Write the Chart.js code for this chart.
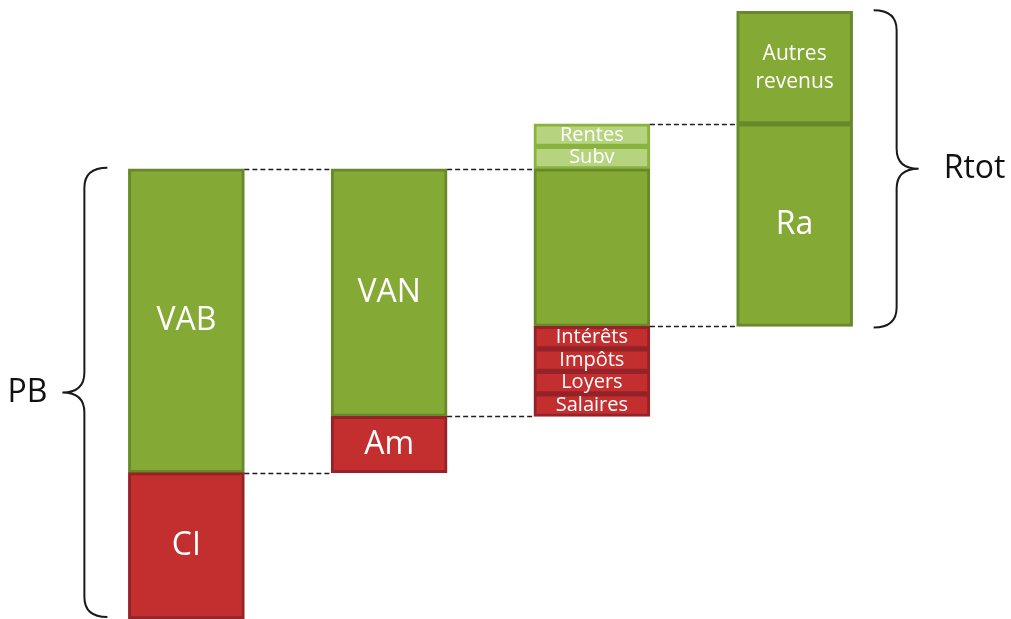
<!DOCTYPE html>
<html lang="fr">
<head>
<meta charset="utf-8">
<title>Du produit brut au revenu total</title>
<script src="https://cdn.jsdelivr.net/npm/chart.js@4.4.1/dist/chart.umd.min.js"></script>
<style>
  html, body { margin: 0; padding: 0; background: #fff; overflow: hidden; }
  canvas { display: block; }
</style>
</head>
<body>
<canvas id="cascade" width="1011" height="619"></canvas>
<script>
const columns = ['PB', 'VAN', 'RB', 'Rtot'];

// one entry per block of the cascade: column, bottom, top, kind
const blockNames = ['CI', 'VAB', 'Am', 'VAN', 'Salaires', 'Loyers', 'Impôts', 'Intérêts', '', 'Subv', 'Rentes', 'Ra', 'Autres revenus'];
const blockColumn = [0, 0, 1, 1, 2, 2, 2, 2, 2, 2, 2, 3, 3];
const blockFrom = [0, 32.5, 32.5, 45, 45, 50, 55, 60, 65, 100, 105, 65, 110];
const blockTo = [32.5, 100, 45, 100, 50, 55, 60, 65, 100, 105, 110, 110, 135];
const blockKind = ['charge', 'valeur', 'charge', 'valeur', 'charge', 'charge', 'charge', 'charge', 'valeur', 'aide', 'aide', 'valeur', 'valeur'];

// dashed links from a column to the next one, at a level
const linkFrom = [0, 0, 1, 1, 2, 2];
const linkLevel = [100, 32.5, 100, 45, 110, 65];

// braces grouping a range of the first / last column
const braceNames = ['PB', 'Rtot'];
const braceColumn = [0, 3];
const braceFrom = [0, 65];
const braceTo = [100, 135];

const fills = { charge: '#c32e2f', valeur: '#84a935', aide: '#b6d480' };
const edges = { charge: '#952228', valeur: '#68892a', aide: '#8ab33d' };
const FONT = '"Open Sans", "DejaVu Sans", sans-serif';

function columnBox(chart, col) {
  const i = blockColumn.indexOf(col);
  const bar = chart.getDatasetMeta(i).data[col];
  const { x, width } = bar.getProps(['x', 'width'], true);
  return { left: x - width / 2, right: x + width / 2 };
}

// white names centred in each block
const blockLabels = {
  id: 'blockLabels',
  afterDatasetsDraw(chart) {
    const ctx = chart.ctx;
    ctx.save();
    ctx.fillStyle = '#ffffff';
    ctx.textAlign = 'center';
    ctx.textBaseline = 'middle';
    blockNames.forEach((name, i) => {
      if (!name) return;
      const bar = chart.getDatasetMeta(i).data[blockColumn[i]];
      const { x, y, base } = bar.getProps(['x', 'y', 'base'], true);
      const h = Math.abs(base - y);
      const mid = (y + base) / 2;
      const words = name.split(' ');
      if (h < 40) {
        ctx.font = '20px ' + FONT;
        ctx.fillText(name, x, mid);
      } else if (words.length > 1) {
        ctx.font = '21px ' + FONT;
        ctx.fillText(words[0], x, mid - 14);
        ctx.fillText(words[1], x, mid + 14);
      } else {
        ctx.font = '32px ' + FONT;
        ctx.fillText(name, x, mid);
      }
    });
    ctx.restore();
  }
};

// dashed lines joining the columns
const links = {
  id: 'links',
  afterDatasetsDraw(chart) {
    const ctx = chart.ctx;
    const yScale = chart.scales.y;
    ctx.save();
    ctx.strokeStyle = '#1f1f1f';
    ctx.lineWidth = 1.5;
    ctx.setLineDash([5, 3]);
    linkFrom.forEach((col, k) => {
      const a = columnBox(chart, col);
      const b = columnBox(chart, col + 1);
      const y = Math.round(yScale.getPixelForValue(linkLevel[k])) + 0.5;
      ctx.beginPath();
      ctx.moveTo(a.right, y);
      ctx.lineTo(b.left, y);
      ctx.stroke();
    });
    ctx.restore();
  }
};

// curly braces with their names
const braces = {
  id: 'braces',
  afterDatasetsDraw(chart) {
    const ctx = chart.ctx;
    const yScale = chart.scales.y;
    const bottomLimit = chart.height - 2;
    ctx.save();
    ctx.strokeStyle = '#1a1a1a';
    ctx.fillStyle = '#111111';
    ctx.lineWidth = 2;
    ctx.font = '32px ' + FONT;
    ctx.textBaseline = 'middle';
    braceNames.forEach((name, k) => {
      const box = columnBox(chart, braceColumn[k]);
      const left = braceColumn[k] === 0;
      const dir = left ? -1 : 1;
      const edge = left ? box.left : box.right;
      const ends = edge + dir * 21;
      const spine = edge + dir * 44;
      const tip = edge + dir * 66;
      const top = yScale.getPixelForValue(braceTo[k]) - 1;
      const bottom = Math.min(yScale.getPixelForValue(braceFrom[k]) + 1, bottomLimit);
      const mid = (top + bottom) / 2;
      const r = 20;
      ctx.beginPath();
      ctx.moveTo(ends, top);
      ctx.quadraticCurveTo(spine, top, spine, top + r);
      ctx.lineTo(spine, mid - r);
      ctx.quadraticCurveTo(spine, mid, tip, mid);
      ctx.quadraticCurveTo(spine, mid, spine, mid + r);
      ctx.lineTo(spine, bottom - r);
      ctx.quadraticCurveTo(spine, bottom, ends, bottom);
      ctx.stroke();
      ctx.textAlign = left ? 'right' : 'left';
      ctx.fillText(name, tip + dir * (left ? 15 : 25), mid);
    });
    ctx.restore();
  }
};

const datasets = blockNames.map((name, i) => ({
  label: name,
  data: columns.map((c, j) => (j === blockColumn[i] ? [blockFrom[i], blockTo[i]] : null)),
  backgroundColor: fills[blockKind[i]],
  borderColor: edges[blockKind[i]],
  borderWidth: 3,
  borderSkipped: false,
  grouped: false,
  barThickness: 116
}));

new Chart(document.getElementById('cascade'), {
  type: 'bar',
  data: { labels: columns, datasets },
  plugins: [links, blockLabels, braces],
  options: {
    responsive: false,
    animation: false,
    layout: { padding: { left: 85, right: 115, top: 0, bottom: 0 } },
    plugins: { legend: { display: false }, tooltip: { enabled: false } },
    scales: {
      x: { display: false },
      y: { display: false, min: 0, max: 137.5 }
    }
  }
});
</script>
</body>
</html>
